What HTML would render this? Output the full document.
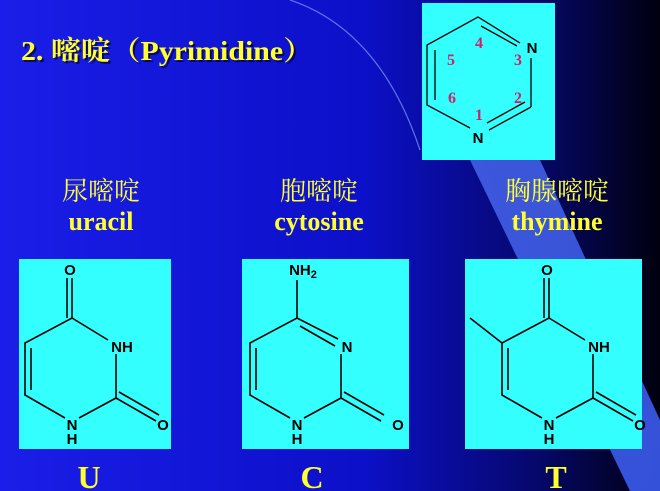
<!DOCTYPE html>
<html><head><meta charset="utf-8"><style>
html,body{margin:0;padding:0;width:660px;height:491px;overflow:hidden;}
</style></head><body>
<svg width="660" height="491" viewBox="0 0 660 491" xmlns="http://www.w3.org/2000/svg">
<defs>
<linearGradient id="bg" x1="0" y1="0" x2="1" y2="0">
<stop offset="0" stop-color="#1a1ee8"/>
<stop offset="0.55" stop-color="#0c10c8"/>
<stop offset="0.8" stop-color="#060870"/>
<stop offset="1" stop-color="#000010"/>
</linearGradient>
<linearGradient id="wedge" x1="0" y1="0" x2="1" y2="1">
<stop offset="0" stop-color="#4a6af0" stop-opacity="0.8"/>
<stop offset="1" stop-color="#3a5af0" stop-opacity="0.9"/>
</linearGradient>
</defs>
<rect width="660" height="491" fill="url(#bg)"/>
<polygon points="470,160 540,160 660,420 660,491 630,491" fill="url(#wedge)"/>
<path d="M290,0 Q380,30 420,150" stroke="#6f8cff" stroke-width="1.2" fill="none" opacity="0.8"/>
<g font-family="Liberation Serif, Noto Serif CJK SC, serif" font-weight="bold" fill="#ffff33">
<g fill="#000" opacity="0.6" transform="translate(2,2)">
<text x="21" y="60" font-size="27" textLength="292" lengthAdjust="spacingAndGlyphs">2. 嘧啶（Pyrimidine）</text>
</g>
<text x="21" y="60" font-size="27" textLength="292" lengthAdjust="spacingAndGlyphs">2. 嘧啶（Pyrimidine）</text>
<g text-anchor="middle" font-size="26">
<text x="101" y="200" font-weight="normal">尿嘧啶</text>
<text x="101" y="230">uracil</text>
<text x="319" y="200" font-weight="normal">胞嘧啶</text>
<text x="319" y="230">cytosine</text>
<text x="557" y="200" font-weight="normal">胸腺嘧啶</text>
<text x="557" y="230">thymine</text>
<text x="89" y="488" font-size="32">U</text>
<text x="312" y="488" font-size="32">C</text>
<text x="556" y="488" font-size="32">T</text>
</g>
</g>
<!-- pyrimidine -->
<rect x="422" y="3" width="133" height="157" fill="#33ffff"/>
<g stroke="#000" stroke-width="1.3" fill="none">
<polyline points="520,43 478,17 427,45 427,105 470,128"/>
<line x1="481" y1="26" x2="517" y2="46"/>
<line x1="435" y1="50" x2="435" y2="100"/>
<line x1="531" y1="58" x2="531" y2="107"/>
<line x1="531" y1="107" x2="489" y2="130"/>
<line x1="525" y1="102" x2="487" y2="123"/>
</g>
<g font-family="Liberation Sans, sans-serif" font-weight="bold" font-size="15" fill="#000" text-anchor="middle">
<text x="532" y="53">N</text>
<text x="478" y="143">N</text>
</g>
<g font-family="Liberation Serif, serif" font-weight="bold" font-size="16" fill="#cc2266" text-anchor="middle">
<text x="479" y="48">4</text><text x="451" y="65">5</text><text x="518" y="65">3</text>
<text x="452" y="103">6</text><text x="518" y="103">2</text><text x="479" y="120">1</text>
</g>
<!-- boxes -->
<rect x="19" y="259" width="152" height="190" fill="#33ffff"/>
<rect x="242" y="259" width="167" height="190" fill="#33ffff"/>
<rect x="465" y="259" width="177" height="190" fill="#33ffff"/>
<!-- uracil -->
<g>
<g stroke="#000" stroke-width="1.6" fill="none">
<polyline points="108,340 72,318 25,343 25,395 65,418"/>
<line x1="31" y1="348" x2="31" y2="390"/>
<line x1="79" y1="418" x2="116" y2="398"/><line x1="116" y1="398" x2="116" y2="354"/>
<line x1="116" y1="398" x2="156" y2="421"/><line x1="119" y1="392" x2="159" y2="415"/>
<line x1="72" y1="318" x2="72" y2="278"/><line x1="67" y1="318" x2="67" y2="278"/>
</g>
<g font-family="Liberation Sans, sans-serif" font-weight="bold" font-size="15" fill="#000" text-anchor="middle">
<text x="70" y="275">O</text><text x="122" y="352">NH</text>
<text x="72" y="430">N</text><text x="72" y="444">H</text><text x="163" y="430">O</text>
</g>
</g>
<!-- cytosine -->
<g transform="translate(225,0)">
<g stroke="#000" stroke-width="1.6" fill="none">
<polyline points="113,339 72,318 25,343 25,395 65,418"/>
<line x1="75" y1="326" x2="110" y2="346"/>
<line x1="31" y1="348" x2="31" y2="390"/>
<line x1="79" y1="418" x2="116" y2="398"/><line x1="116" y1="398" x2="116" y2="354"/>
<line x1="116" y1="398" x2="156" y2="421"/><line x1="119" y1="392" x2="159" y2="415"/>
<line x1="72" y1="318" x2="72" y2="280"/>
</g>
<g font-family="Liberation Sans, sans-serif" font-weight="bold" font-size="15" fill="#000" text-anchor="middle">
<text x="78" y="275">NH<tspan font-size="11" dy="3">2</tspan></text><text x="122" y="352">N</text>
<text x="72" y="430">N</text><text x="72" y="444">H</text><text x="173" y="430">O</text>
</g>
</g>
<!-- thymine -->
<g transform="translate(477,0)">
<g stroke="#000" stroke-width="1.6" fill="none">
<polyline points="108,340 72,318 25,343 25,395 65,418"/>
<line x1="25" y1="343" x2="-7" y2="318"/>
<line x1="31" y1="348" x2="31" y2="390"/>
<line x1="79" y1="418" x2="116" y2="398"/><line x1="116" y1="398" x2="116" y2="354"/>
<line x1="116" y1="398" x2="156" y2="421"/><line x1="119" y1="392" x2="159" y2="415"/>
<line x1="72" y1="318" x2="72" y2="278"/><line x1="67" y1="318" x2="67" y2="278"/>
</g>
<g font-family="Liberation Sans, sans-serif" font-weight="bold" font-size="15" fill="#000" text-anchor="middle">
<text x="70" y="275">O</text><text x="122" y="352">NH</text>
<text x="72" y="430">N</text><text x="72" y="444">H</text><text x="163" y="430">O</text>
</g>
</g>
</svg>
</body></html>
